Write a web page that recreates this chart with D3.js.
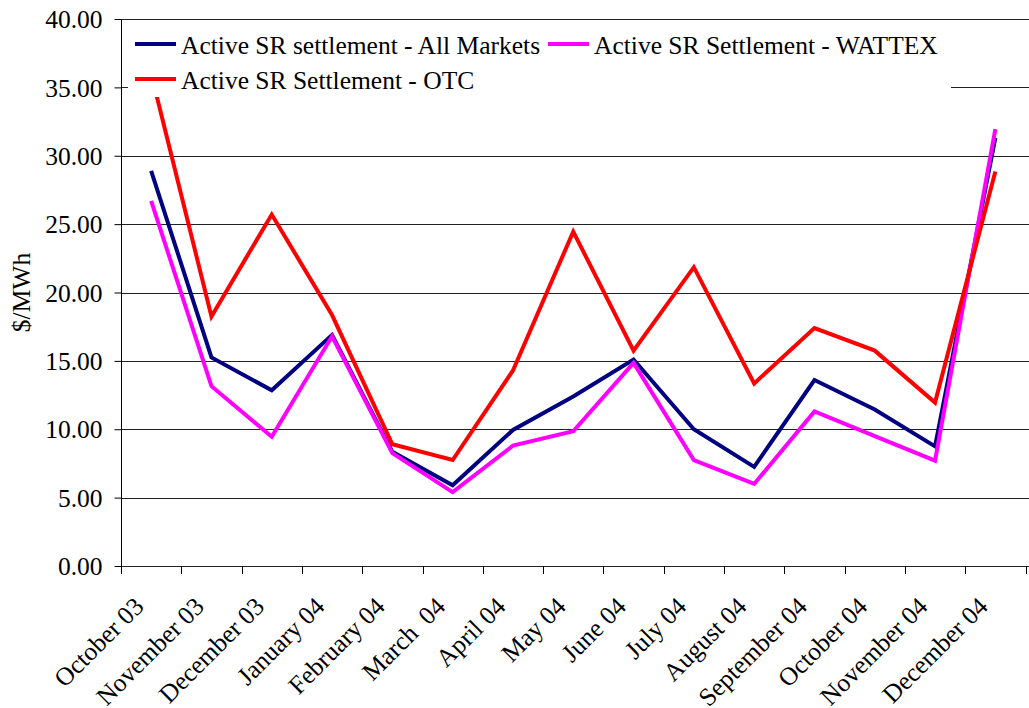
<!DOCTYPE html>
<html>
<head>
<meta charset="utf-8">
<script src="https://cdn.jsdelivr.net/npm/d3@7"></script>
<style>
  html, body { margin: 0; padding: 0; background: #fff; }
</style>
</head>
<body>
<svg id="chart" width="1029" height="708"></svg>
<script>
// ── Data ─────────────────────────────────────────────────────────
const months = [
  'October 03', 'November 03', 'December 03', 'January 04', 'February 04',
  'March  04', 'April 04', 'May 04', 'June 04', 'July 04', 'August 04',
  'September 04', 'October 04', 'November 04', 'December 04'
];
const allMarkets = [28.9, 15.25, 12.85, 16.9, 8.35, 5.9, 9.95, 12.4, 15.1, 10.0, 7.25, 13.6, 11.45, 8.75, 31.3];
const wattex     = [26.7, 13.15, 9.45, 16.8, 8.25, 5.4, 8.8, 9.85, 14.85, 7.75, 6.0, 11.3, 9.5, 7.7, 31.95];
const otc        = [36.0, 18.25, 25.7, 18.35, 8.9, 7.75, 14.3, 24.45, 15.75, 21.85, 13.35, 17.4, 15.75, 11.95, 28.85];
const yTicks = [0, 5, 10, 15, 20, 25, 30, 35, 40];

const series = [
  { name: 'Active SR settlement - All Markets', values: allMarkets, color: '#000080' },
  { name: 'Active SR Settlement - WATTEX', values: wattex, color: '#ff00ff' },
  { name: 'Active SR Settlement - OTC', values: otc, color: '#ff0000' },
];

// ── Layout ───────────────────────────────────────────────────────
const W = 1029, H = 708;
const plotL = 121, plotR = 1025.5, plotT = 19, plotB = 566;
const FONT_STYLE = 'font-family:"Liberation Serif","Times New Roman",serif;font-size:25.5px;fill:#000';

const svg = d3.select('#chart');

const x = d3.scaleBand().domain(months).range([plotL, plotR]).padding(0);
const y = d3.scaleLinear().domain([0, 40]).range([plotB, plotT]);
const cx = d => x(d) + x.bandwidth() / 2;

// ── Gridlines ────────────────────────────────────────────────────
svg.append('g')
  .selectAll('line')
  .data(yTicks)
  .join('line')
  .attr('x1', plotL).attr('x2', W)
  .attr('y1', d => Math.round(y(d)) + 0.5).attr('y2', d => Math.round(y(d)) + 0.5)
  .attr('stroke', '#222')
  .attr('stroke-width', 1);

// ── Lines ────────────────────────────────────────────────────────
const line = d3.line()
  .x((d, i) => cx(months[i]))
  .y(d => y(d));

svg.append('g')
  .selectAll('path')
  .data(series)
  .join('path')
  .attr('d', s => line(s.values))
  .attr('fill', 'none')
  .attr('stroke', s => s.color)
  .attr('stroke-width', 4)
  .attr('stroke-linejoin', 'miter');

// ── Y axis ───────────────────────────────────────────────────────
const yAxis = svg.append('g')
  .attr('transform', `translate(${plotL + 0.5},0)`)
  .call(d3.axisLeft(y).tickValues(yTicks).tickFormat(d3.format('.2f')).tickSize(7).tickPadding(12));
yAxis.select('.domain').attr('stroke', '#000').attr('d', `M0,${plotT}V${plotB}`);
yAxis.selectAll('.tick line').attr('stroke', '#000');
yAxis.selectAll('.tick text')
  .attr('style', FONT_STYLE)
  .attr('dy', '0.34em');

svg.append('text')
  .attr('transform', `translate(30,${(plotT + plotB) / 2}) rotate(-90)`)
  .attr('text-anchor', 'middle')
  .attr('style', FONT_STYLE)
  .text('$/MWh');

// ── X axis ───────────────────────────────────────────────────────
const edges = months.map(m => x(m)).concat([plotR]);
svg.append('g')
  .selectAll('line')
  .data(edges)
  .join('line')
  .attr('x1', d => Math.round(d) + 0.5).attr('x2', d => Math.round(d) + 0.5)
  .attr('y1', plotB).attr('y2', plotB + 8)
  .attr('stroke', '#000');

svg.append('g')
  .selectAll('text')
  .data(months)
  .join('text')
  .attr('transform', d => `translate(${cx(d) - 6},${plotB + 42}) rotate(-45)`)
  .attr('text-anchor', 'end')
  .attr('style', FONT_STYLE + ';white-space:pre')
  .text(d => d);

// ── Legend ───────────────────────────────────────────────────────
const legend = svg.append('g');
legend.append('rect')
  .attr('x', 128).attr('y', 24)
  .attr('width', 823).attr('height', 73)
  .attr('fill', '#fff');

const legendPos = [
  { x: 135, y: 44 },
  { x: 548, y: 44 },
  { x: 135, y: 79 },
];
series.forEach((s, i) => {
  const p = legendPos[i];
  legend.append('line')
    .attr('x1', p.x).attr('x2', p.x + 41)
    .attr('y1', p.y).attr('y2', p.y)
    .attr('stroke', s.color)
    .attr('stroke-width', 4);
  legend.append('text')
    .attr('x', p.x + 46).attr('y', p.y + 9.5)
    .attr('style', FONT_STYLE)
    .text(s.name);
});
</script>
</body>
</html>
